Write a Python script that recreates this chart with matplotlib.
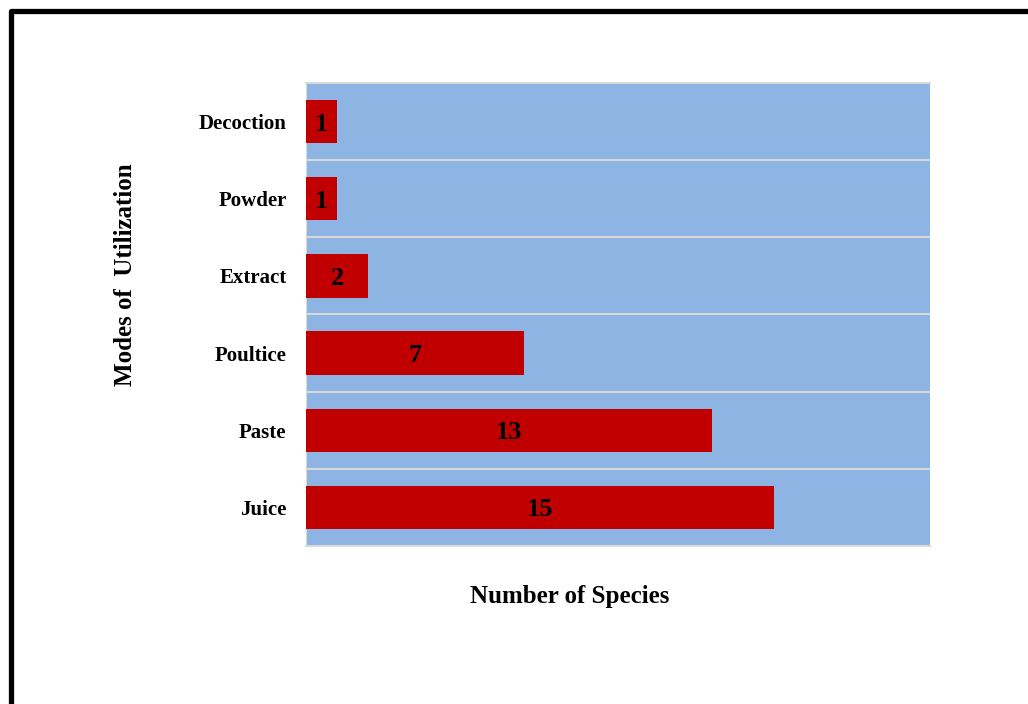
import matplotlib.pyplot as plt
from matplotlib.patches import Rectangle

# data
modes = ['Juice', 'Paste', 'Poultice', 'Extract', 'Powder', 'Decoction']
species_counts = [15, 13, 7, 2, 1, 1]

plt.rcParams['font.family'] = ['Liberation Serif', 'DejaVu Serif']

W, H = 1028, 704
fig = plt.figure(figsize=(W / 100, H / 100), dpi=100)
ax = fig.add_axes([306 / W, 1 - 546 / H, (930 - 306) / W, (546 - 83) / H])

ax.set_facecolor('#8EB4E3')
positions = list(range(len(modes)))
bars = ax.barh(positions, species_counts, height=0.56, color='#C00000', zorder=3)

for bar, val in zip(bars, species_counts):
    ax.text(bar.get_x() + bar.get_width() / 2, bar.get_y() + bar.get_height() / 2,
            str(val), ha='center', va='center_baseline', fontsize=19, fontweight='bold',
            color='black', zorder=4)

ax.set_xlim(0, 20)
ax.set_ylim(-0.5, len(modes) - 0.5)
ax.set_yticks(positions)
ax.set_yticklabels(modes, fontsize=15, fontweight='bold')
ax.set_xticks([])
ax.tick_params(axis='y', length=0, pad=14)

# horizontal lines between categories
for b in [p + 0.5 for p in positions[:-1]]:
    ax.axhline(b, color='#D9D9D9', linewidth=1.5, zorder=2)

for side in ['top', 'bottom']:
    ax.spines[side].set_color('#D9D9D9')
    ax.spines[side].set_linewidth(1.5)
ax.spines['left'].set_color('#D9D9D9')
ax.spines['right'].set_visible(False)

fig.text(570 / W, 1 - 597 / H, 'Number of Species', fontsize=18, fontweight='bold',
         ha='center', va='center')
fig.text(125 / W, 1 - 275 / H, 'Modes of  Utilization', rotation=90, fontsize=18,
         fontweight='bold', ha='center', va='center')

# black frame around the figure (runs off the right and bottom edges)
frame = Rectangle((10.5 / W, -0.2), 1.2, 1 - 10.5 / H + 0.2, transform=fig.transFigure,
                  fill=False, edgecolor='black', linewidth=3.8, clip_on=False,
                  joinstyle='round')
fig.patches.append(frame)

fig.savefig('out.png', dpi=100)
